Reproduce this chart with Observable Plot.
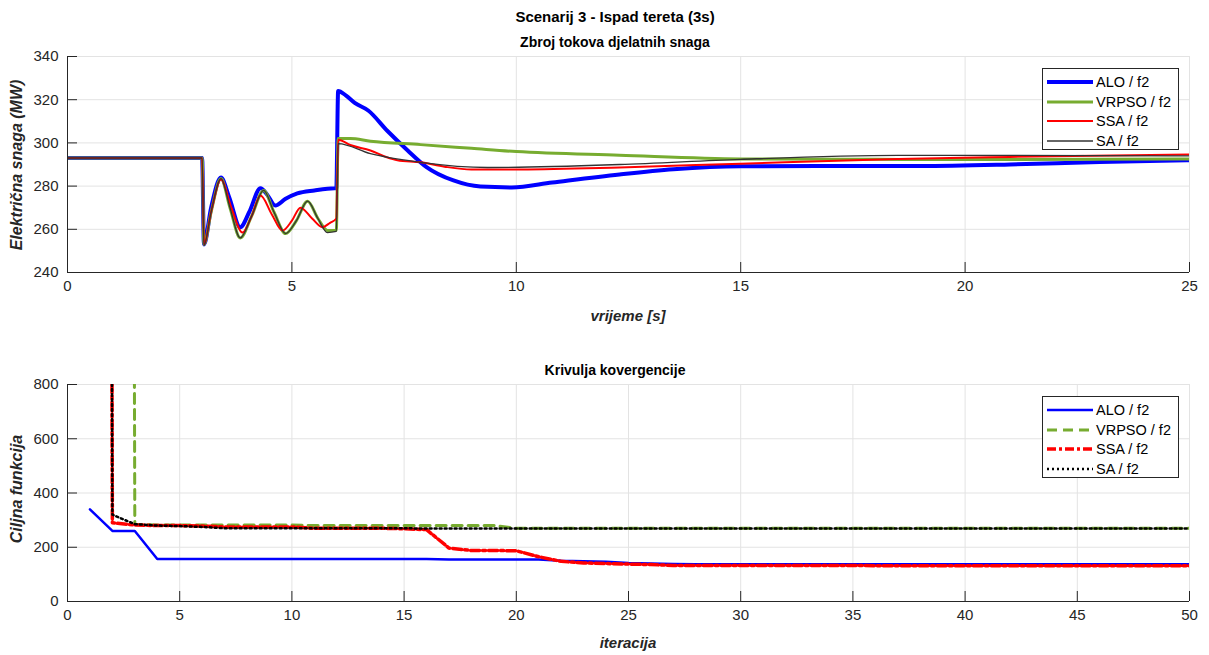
<!DOCTYPE html>
<html>
<head>
<meta charset="utf-8">
<script src="https://cdn.jsdelivr.net/npm/d3@7"></script>
<script src="https://cdn.jsdelivr.net/npm/@observablehq/plot@0.6"></script>
<style>
  body { margin: 0; background: #fff; font-family: "Liberation Sans", Arial, Helvetica, sans-serif; }
  #wrap { position: relative; width: 1209px; height: 655px; overflow: hidden; background: #fff; }
  .abs { position: absolute; }
  .ttl { font-weight: bold; font-size: 15px; color: #000; text-align: center; white-space: nowrap; }
  .sub { font-weight: bold; font-size: 14px; color: #000; text-align: center; white-space: nowrap; }
  .xl { font-weight: bold; font-style: italic; font-size: 15px; color: #262626; text-align: center; white-space: nowrap; }
  .yl { font-weight: bold; font-style: italic; font-size: 16px; color: #262626; white-space: nowrap; transform: translate(-50%, -50%) rotate(-90deg); }
  .leg { border: 1px solid #262626; background: #fff; box-sizing: border-box; }
  .legrow { position: absolute; left: 0; height: 20px; display: flex; align-items: center; font-size: 14.5px; color: #000; white-space: nowrap; }
  .legrow svg { margin-left: 4px; margin-right: 3px; }
</style>
</head>
<body>
<div id="wrap"></div>
<script>
// ---------- DATA ----------
// Top chart: "Zbroj tokova djelatnih snaga" — [time (s), power (MW)]
const aloPower = [
  [0,293],[3.0,293],[3.04,253],[3.2,270],[3.42,284],[3.6,275],[3.85,261],[4.05,268],[4.3,279],[4.45,276],
  [4.63,271],[4.85,274],[5.12,276.6],[5.5,278],[5.95,279],[5.99,279],[6.03,324],[6.2,322],[6.4,318.5],
  [6.7,315],[7.13,305.5],[7.58,296.5],[8.0,288.8],[8.6,282.6],[9.2,279.8],[9.9,279.4],[10.8,281.7],
  [12.3,285.4],[13.5,287.8],[15,289.2],[17,289.3],[19,289.3],[21,290],[23,291.2],[25,292]
];
const vrpsoPower = [
  [0,293],[3.0,293],[3.04,253],[3.2,268],[3.42,283.5],[3.62,270],[3.85,256],[4.1,266],[4.37,278],[4.6,268],
  [4.86,258],[5.1,264],[5.35,273],[5.58,265],[5.79,259.5],[5.99,259.5],[6.03,302],[6.3,302],[6.75,300.8],
  [7.87,299.2],[9,297.5],[10,296],[12.3,294.3],[15,292.6],[18,292.4],[21,292.3],[25,292.6]
];
const ssaPower = [
  [0,293],[3.0,293],[3.04,253],[3.2,268],[3.42,283],[3.65,270],[3.9,258.5],[4.1,266],[4.3,275.6],[4.55,267],
  [4.79,259.4],[5.0,264],[5.19,270],[5.45,265],[5.68,261],[5.85,263],[5.99,265],[6.03,301.5],[6.3,299],
  [6.75,296.5],[7.1,293.5],[7.35,292],[7.87,291],[8.4,289],[9,287.7],[10.1,287.7],[12.3,288.6],[15,290.4],
  [18.5,292.6],[21,293.5],[25,294.6]
];
const saPower = [
  [0,293],[3.0,293],[3.04,252.5],[3.2,268],[3.42,283.5],[3.62,270],[3.85,256],[4.1,266],[4.37,278],[4.6,268],
  [4.86,258],[5.1,264],[5.35,273],[5.58,265],[5.79,258.5],[5.99,259],[6.03,299.7],[6.75,295],[7.87,291],
  [9.36,288.6],[12.3,290],[15,292.4],[18.5,294.2],[21,294.2],[25,294]
];

// Bottom chart: "Krivulja kovergencije" — objective value per iteration 1..50
const iterations = d3.range(1, 51);
const aloConv = [340,260,260,157,157,157,157,157,157,157,157,157,157,157,157,157,155,155,155,155,155,150,148,147,142,140,138,
  137,137,137,137,137,137,137,137,137,137,137,137,137,137,137,137,137,137,137,137,137,137,137];
const vrpsoConv = [30000,30000,285,282,282,282,282,282,282,282,280,280,280,280,280,280,280,280,280,270,270,270,270,270,270,270,270,
  270,270,270,270,270,270,270,270,270,270,270,270,270,270,270,270,270,270,270,270,270,270,270];
const ssaConv = [30000,290,282,280,280,278,275,275,275,275,270,270,270,270,268,265,197,188,188,187,165,148,142,140,138,136,133,
  133,133,133,133,133,133,133,133,132,132,132,132,132,132,132,132,132,132,132,132,132,132,132];
const saConv = [30000,320,285,280,278,275,270,270,270,270,270,270,270,270,270,269,269,269,269,269,269,269,269,269,269,269,269,
  269,269,269,269,269,269,269,269,269,269,269,269,269,269,269,269,269,269,269,269,269,269,269];

// Axes
const topXTicks = [0,5,10,15,20,25];
const topYTicks = [240,260,280,300,320,340];
const botXTicks = [0,5,10,15,20,25,30,35,40,45,50];
const botYTicks = [0,200,400,600,800];

// Text
const mainTitle = "Scenarij 3 - Ispad tereta (3s)";
const topTitle = "Zbroj tokova djelatnih snaga";
const botTitle = "Krivulja kovergencije";
const topXLabel = "vrijeme [s]";
const topYLabel = "Električna snaga (MW)";
const botXLabel = "iteracija";
const botYLabel = "Ciljna funkcija";
const seriesNames = ["ALO / f2", "VRPSO / f2", "SSA / f2", "SA / f2"];

// ---------- STYLE ----------
const W = 1209;
const axisColor = "#262626";
const gridColor = "#e3e3e3";
const topStyles = [
  {stroke: "#0000ff", strokeWidth: 4},
  {stroke: "#77ac30", strokeWidth: 3},
  {stroke: "#ff0000", strokeWidth: 2},
  {stroke: "#333333", strokeWidth: 1.3}
];
const botStyles = [
  {stroke: "#0000ff", strokeWidth: 2.5},
  {stroke: "#77ac30", strokeWidth: 3, strokeDasharray: "10,6"},
  {stroke: "#ff0000", strokeWidth: 3.5, strokeDasharray: "9,3,3,3"},
  {stroke: "#000000", strokeWidth: 2.5, strokeDasharray: "2,3"}
];

const wrap = document.getElementById("wrap");
const baseStyle = {fontFamily: "'Liberation Sans', Arial, Helvetica, sans-serif", fontSize: "15px", color: axisColor, background: "transparent", overflow: "visible"};

function makePlot({xDomain, yDomain, xTicks, yTicks, series, styles, curve, mt, mb, height}) {
  const ml = 67, mr = 20;
  const pw = W - ml - mr, ph = height - mt - mb;
  const marks = [
    Plot.gridX(xTicks, {stroke: gridColor, strokeOpacity: 1}),
    Plot.gridY(yTicks, {stroke: gridColor, strokeOpacity: 1}),
  ];
  series.forEach((data, i) => {
    marks.push(Plot.line(data, {x: d => d[0], y: d => d[1], curve, clip: true, ...styles[i]}));
  });
  marks.push(
    Plot.ruleX([xDomain[0]], {stroke: axisColor, strokeWidth: 1}),
    Plot.ruleY([yDomain[0]], {stroke: axisColor, strokeWidth: 1}),
    Plot.tickY(yTicks, {y: d => d, insetRight: pw - 10, stroke: axisColor}),
    Plot.tickX(xTicks, {x: d => d, insetTop: ph - 10, stroke: axisColor}),
    Plot.axisX(xTicks, {tickSize: 0, tickPadding: 8, label: null, fill: axisColor}),
    Plot.axisY(yTicks, {tickSize: 0, tickPadding: 9, label: null, fill: axisColor})
  );
  return Plot.plot({
    width: W, height, marginLeft: ml, marginRight: mr, marginTop: mt, marginBottom: mb,
    x: {domain: xDomain},
    y: {domain: yDomain},
    style: baseStyle,
    marks
  });
}

function place(el, top) {
  const d = document.createElement("div");
  d.className = "abs";
  d.style.left = "0px"; d.style.top = top + "px";
  d.appendChild(el);
  wrap.appendChild(d);
}

// top chart
place(makePlot({
  xDomain: [0, 25], yDomain: [240, 340], xTicks: topXTicks, yTicks: topYTicks,
  series: [aloPower, vrpsoPower, ssaPower, saPower], styles: topStyles, curve: "monotone-x",
  mt: 56, mb: 58, height: 330
}), 0);

// bottom chart
const botSeries = [aloConv, vrpsoConv, ssaConv, saConv].map(arr => iterations.map((it, i) => [it, arr[i]]));
place(makePlot({
  xDomain: [0, 50], yDomain: [0, 800], xTicks: botXTicks, yTicks: botYTicks,
  series: botSeries, styles: botStyles, curve: "linear",
  mt: 54, mb: 54, height: 325
}), 330);

// text
function text(cls, str, css) {
  const d = document.createElement("div");
  d.className = "abs " + cls;
  d.textContent = str;
  Object.assign(d.style, css);
  wrap.appendChild(d);
  return d;
}
const cx = 628, tx = 615;
text("ttl", mainTitle, {left: (tx - 300) + "px", width: "600px", top: "8px"});
text("sub", topTitle, {left: (tx - 300) + "px", width: "600px", top: "34px"});
text("sub", botTitle, {left: (tx - 300) + "px", width: "600px", top: "362px"});
text("xl", topXLabel, {left: (cx - 300) + "px", width: "600px", top: "307px"});
text("xl", botXLabel, {left: (cx - 300) + "px", width: "600px", top: "634px"});
text("yl", topYLabel, {left: "17px", top: "165px"});
text("yl", botYLabel, {left: "17px", top: "489px"});

// legends
function legend(top, styles) {
  const box = document.createElement("div");
  box.className = "abs leg";
  Object.assign(box.style, {left: "1042px", top: top + "px", width: "137px", height: "82px"});
  seriesNames.forEach((name, i) => {
    const row = document.createElement("div");
    row.className = "legrow";
    row.style.top = (3 + i * 19.7) + "px";
    const s = styles[i];
    row.innerHTML = `<svg width="46" height="10"><line x1="0" x2="46" y1="5" y2="5" stroke="${s.stroke}" stroke-width="${s.strokeWidth}" ${s.strokeDasharray ? `stroke-dasharray="${s.strokeDasharray}"` : ""}/></svg><span>${name}</span>`;
    box.appendChild(row);
  });
  wrap.appendChild(box);
}
legend(68, topStyles);
legend(396, botStyles);
</script>
</body>
</html>
